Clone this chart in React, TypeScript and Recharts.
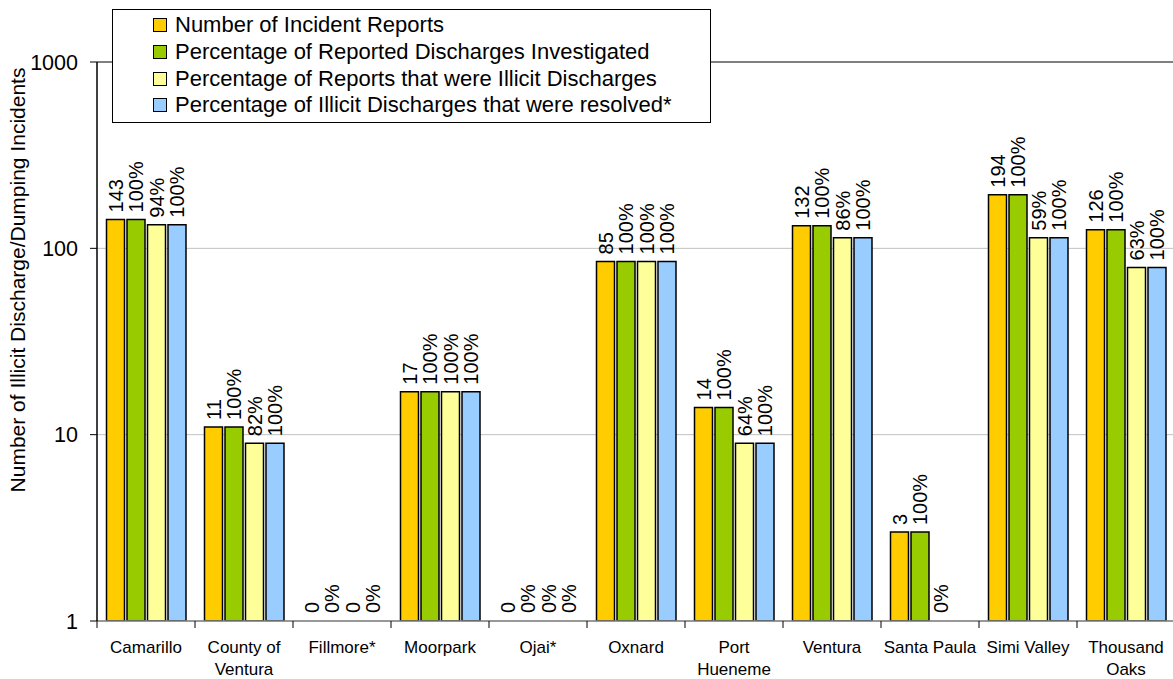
import React from "react";
import {
  BarChart,
  Bar,
  XAxis,
  YAxis,
  CartesianGrid,
  Legend,
  LabelList,
  ReferenceLine,
  Label,
  Rectangle,
} from "recharts";

const categories = [
  "Camarillo",
  "County of Ventura",
  "Fillmore*",
  "Moorpark",
  "Ojai*",
  "Oxnard",
  "Port Hueneme",
  "Ventura",
  "Santa Paula",
  "Simi Valley",
  "Thousand Oaks",
];
const tickLabels = [
  "Camarillo",
  "County of\nVentura",
  "Fillmore*",
  "Moorpark",
  "Ojai*",
  "Oxnard",
  "Port\nHueneme",
  "Ventura",
  "Santa Paula",
  "Simi Valley",
  "Thousand\nOaks",
];

const reports = [143, 11, 0, 17, 0, 85, 14, 132, 3, 194, 126];
const investigated = [143, 11, 0, 17, 0, 85, 14, 132, 3, 194, 126];
const illicit = [134, 9, 0, 17, 0, 85, 9, 114, 0, 114, 79];
const resolved = [134, 9, 0, 17, 0, 85, 9, 114, 0, 114, 79];

const reportsLabels = ["143", "11", "0", "17", "0", "85", "14", "132", "3", "194", "126"];
const investigatedLabels = ["100%", "100%", "0%", "100%", "0%", "100%", "100%", "100%", "100%", "100%", "100%"];
const illicitLabels = ["94%", "82%", "0", "100%", "0%", "100%", "64%", "86%", "0%", "59%", "63%"];
const resolvedLabels = ["100%", "100%", "0%", "100%", "0%", "100%", "100%", "100%", "", "100%", "100%"];

const yTicks = [1, 10, 100, 1000];
const AXIS_MIN = 1;

const series = [
  { key: "reports", name: "Number of Incident Reports", color: "#FFCC00", raw: reports, labels: reportsLabels },
  { key: "investigated", name: "Percentage of Reported Discharges Investigated", color: "#99CC00", raw: investigated, labels: investigatedLabels },
  { key: "illicit", name: "Percentage of Reports that were Illicit Discharges", color: "#FFFF99", raw: illicit, labels: illicitLabels },
  { key: "resolved", name: "Percentage of Illicit Discharges that were resolved*", color: "#99CCFF", raw: resolved, labels: resolvedLabels },
];

const floorLog = (v: number) => (v > 0 ? v : AXIS_MIN);

const data = categories.map((name, i) => {
  const row: any = { name };
  series.forEach((s) => {
    row[s.key] = floorLog(s.raw[i]);
    row[`${s.key}Raw`] = s.raw[i];
    row[`${s.key}Label`] = s.labels[i];
  });
  return row;
});

const FONT = "'Liberation Sans', Arial, Helvetica, sans-serif";

const BarLabel = (props: any) => {
  const { x, y, width, value } = props;
  if (!value) return null;
  const cx = Number(x) + Number(width) / 2;
  const y0 = Number(y) - 7;
  return (
    <text
      transform={`translate(${cx},${y0}) rotate(-90)`}
      textAnchor="start"
      dominantBaseline="central"
      fontSize={20}
      fontFamily={FONT}
      fill="#000"
    >
      {value}
    </text>
  );
};

const XTick = (props: any) => {
  const { x, y, payload, index } = props;
  const label = tickLabels[index] ?? String(payload.value);
  const lines = label.split("\n");
  const half = payload.offset ?? 0;
  return (
    <g>
      <line x1={x - half} x2={x - half} y1={y - 8} y2={y - 1} stroke="#000" strokeWidth={1} />
      {lines.map((ln: string, k: number) => (
        <text
          key={k}
          x={x}
          y={y + 24 + k * 22}
          textAnchor="middle"
          fontSize={17}
          fontFamily={FONT}
          fill="#000"
        >
          {ln}
        </text>
      ))}
    </g>
  );
};

const LegendBox = () => (
  <div
    style={{
      boxSizing: "border-box",
      width: 599,
      height: 114,
      border: "1px solid #000",
      background: "#fff",
      paddingTop: 2,
      fontFamily: FONT,
      fontSize: 22,
      color: "#000",
    }}
  >
    {series.map((s) => (
      <div
        key={s.key}
        style={{ display: "flex", alignItems: "center", height: 26.7, paddingLeft: 40, whiteSpace: "nowrap" }}
      >
        <span
          style={{
            display: "inline-block",
            boxSizing: "border-box",
            width: 14,
            height: 14,
            background: s.color,
            border: "1.5px solid #000",
            marginRight: 8,
          }}
        />
        <span style={{ lineHeight: "26px" }}>{s.name}</span>
      </div>
    ))}
  </div>
);

const makeShape = (key: string) => (props: any) => {
  const raw = props.payload ? props.payload[`${key}Raw`] : 0;
  if (!(raw > 0)) return <g />;
  return <Rectangle {...props} />;
};

export default function App() {
  return (
    <div
      style={{
        position: "absolute",
        left: 0,
        top: 0,
        width: 1173,
        height: 679,
        overflow: "hidden",
        background: "#fff",
      }}
    >
      <BarChart
        width={1175}
        height={679}
        data={data}
        margin={{ top: 62, right: 0, left: 0, bottom: 8 }}
        barCategoryGap={9.5}
        barGap={2.5}
      >
        <CartesianGrid vertical={false} stroke="#c0c0c0" />
        <ReferenceLine y={1000} stroke="#808080" strokeWidth={2} />
        <XAxis
          dataKey="name"
          height={50}
          interval={0}
          tickLine={false}
          axisLine={{ stroke: "#808080", strokeWidth: 1.5 }}
          tick={<XTick />}
        />
        <YAxis
          scale="log"
          domain={[1, 1000]}
          ticks={yTicks}
          allowDataOverflow
          width={97}
          tickSize={7}
          tickMargin={12}
          tickLine={{ stroke: "#000" }}
          axisLine={{ stroke: "#000", strokeWidth: 1.5 }}
          tick={{ fontSize: 21.5, fontFamily: FONT, fill: "#000" }}
        >
          <Label
            content={() => (
              <text
                transform="translate(17,280) rotate(-90)"
                textAnchor="middle"
                dominantBaseline="central"
                fontSize={21}
                fontFamily={FONT}
                fill="#000"
              >
                Number of Illicit Discharge/Dumping Incidents
              </text>
            )}
          />
        </YAxis>
        <Legend
          layout="vertical"
          align="center"
          verticalAlign="middle"
          content={<LegendBox />}
          wrapperStyle={{ left: 112, top: 9, width: 599, height: 114 }}
        />
        {series.map((s) => (
          <Bar
            key={s.key}
            dataKey={s.key}
            name={s.name}
            fill={s.color}
            stroke="#000"
            strokeWidth={1.5}
            minPointSize={1}
            shape={makeShape(s.key)}
            isAnimationActive={false}
          >
            <LabelList dataKey={`${s.key}Label`} content={<BarLabel />} />
          </Bar>
        ))}
      </BarChart>
    </div>
  );
}
